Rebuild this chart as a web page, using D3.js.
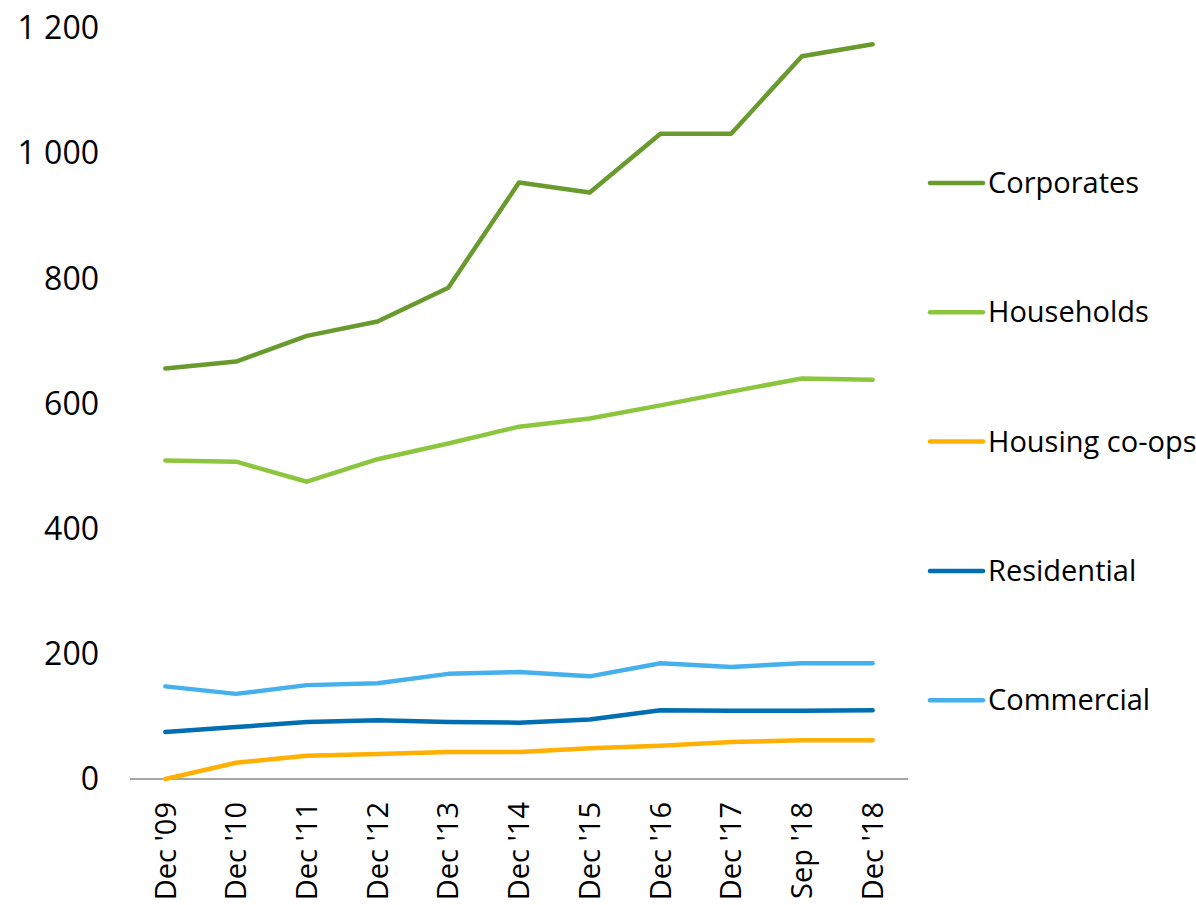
<!DOCTYPE html>
<html lang="en">
<head>
    <meta charset="utf-8">
    <title>Lending by sector</title>
    <script src="https://d3js.org/d3.v7.min.js"></script>
</head>
<style type="text/css">
    body {
        margin: 0;
        background: #fff;
    }

    text {
        font-family: "Open Sans", "Noto Sans", sans-serif;
        fill: #000;
    }
</style>
<body>
    <script>
        var width = 1196,
            height = 905;

        var categories = ["Dec '09", "Dec '10", "Dec '11", "Dec '12", "Dec '13", "Dec '14",
            "Dec '15", "Dec '16", "Dec '17", "Sep '18", "Dec '18"];

        var corporates = [656, 667, 708, 731, 785, 953, 937, 1031, 1031, 1155, 1174];
        var households = [509, 507, 475, 511, 536, 563, 576, 597, 619, 640, 638];
        var housingCoops = [0, 26, 37, 40, 43, 43, 49, 53, 59, 62, 62];
        var residential = [75, 83, 91, 94, 91, 90, 95, 110, 109, 109, 110];
        var commercial = [148, 136, 150, 153, 168, 171, 164, 185, 179, 185, 185];

        var seriesNames = ["Corporates", "Households", "Housing co-ops", "Residential", "Commercial"];
        var seriesColors = ["#699a2d", "#8cc63f", "#ffb000", "#006eb0", "#45b0ec"];
        var yTicks = [0, 200, 400, 600, 800, 1000, 1200];

        var series = [corporates, households, housingCoops, residential, commercial].map(function(v, i) {
            return { name: seriesNames[i], color: seriesColors[i], values: v };
        });

        var margin = { left: 130, right: 288, top: 28, bottom: 126 };

        var svg = d3.select("body").append("svg")
            .attr("width", width)
            .attr("height", height);

        var x = d3.scalePoint()
            .domain(categories)
            .range([margin.left, width - margin.right])
            .padding(0.5);

        var y = d3.scaleLinear()
            .domain([0, 1200])
            .range([height - margin.bottom, margin.top]);

        // y labels (no axis line)
        svg.append("g")
            .selectAll("text")
            .data(yTicks)
            .enter().append("text")
            .attr("x", 99)
            .attr("y", function(d) { return y(d); })
            .attr("dy", "0.35em")
            .attr("text-anchor", "end")
            .style("font-size", "32px")
            .text(function(d) { return d3.format(",")(d).replace(",", " "); });

        // x axis baseline
        svg.append("line")
            .attr("x1", margin.left)
            .attr("x2", width - margin.right)
            .attr("y1", y(0))
            .attr("y2", y(0))
            .attr("stroke", "#898989")
            .attr("stroke-width", 1.5);

        // x labels, rotated
        svg.append("g")
            .selectAll("text")
            .data(categories)
            .enter().append("text")
            .attr("transform", function(d) {
                return "translate(" + x(d) + "," + (y(0) + 23) + ") rotate(-90)";
            })
            .attr("dy", "0.35em")
            .attr("text-anchor", "end")
            .style("font-size", "29px")
            .text(function(d) { return d; });

        var line = d3.line()
            .x(function(d, i) { return x(categories[i]); })
            .y(function(d) { return y(d); });

        // draw bottom series first so corporates sit on top
        svg.append("g")
            .selectAll("path")
            .data(series.slice().reverse())
            .enter().append("path")
            .attr("d", function(d) { return line(d.values); })
            .attr("fill", "none")
            .attr("stroke", function(d) { return d.color; })
            .attr("stroke-width", 4.5)
            .attr("stroke-linejoin", "round")
            .attr("stroke-linecap", "round");

        // legend
        var legend = svg.append("g")
            .selectAll("g")
            .data(series)
            .enter().append("g")
            .attr("transform", function(d, i) { return "translate(930," + (183 + i * 129.3) + ")"; });

        legend.append("line")
            .attr("x1", 0)
            .attr("x2", 53)
            .attr("stroke", function(d) { return d.color; })
            .attr("stroke-width", 4.5)
            .attr("stroke-linecap", "round");

        legend.append("text")
            .attr("x", 58)
            .attr("dy", "0.35em")
            .style("font-size", "29px")
            .text(function(d) { return d.name; });
    </script>
</body>
</html>
